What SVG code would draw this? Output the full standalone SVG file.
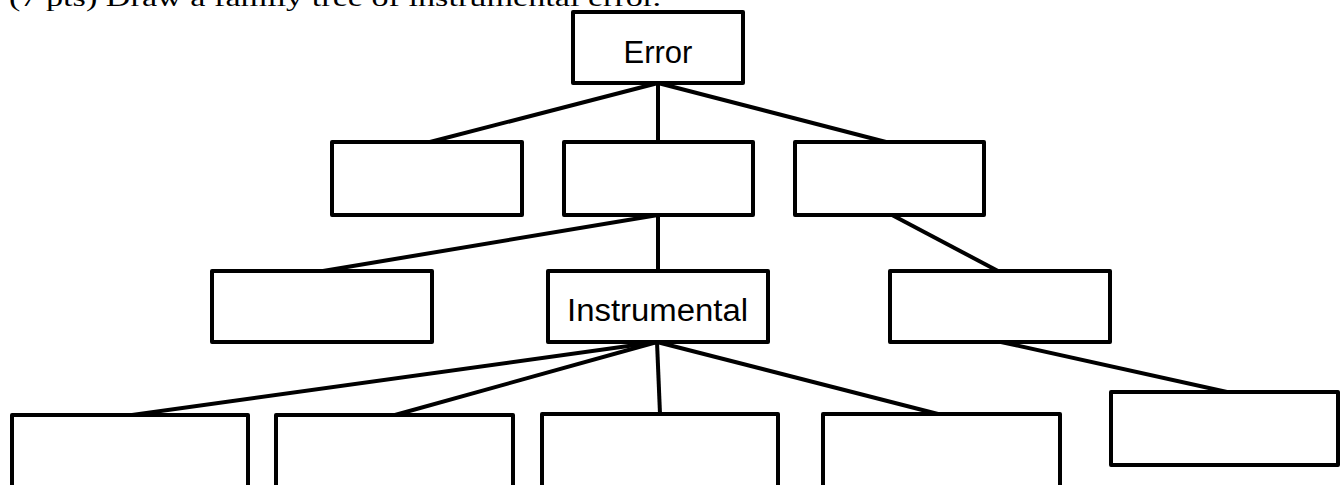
<svg xmlns="http://www.w3.org/2000/svg" width="1341" height="485" viewBox="0 0 1341 485">
<style>
.box{fill:#fff;stroke:#000;stroke-width:4;stroke-linejoin:round}
.ln{stroke:#000;stroke-width:4;fill:none;stroke-linecap:butt}
.lbl{font-family:"Liberation Sans",Arial,sans-serif;font-size:31px;fill:#000;text-anchor:middle}
.hdr{font-family:"Liberation Serif","Times New Roman",serif;font-size:25px;fill:#000}
</style>
<rect width="1341" height="485" fill="#fff"/>
<text class="hdr" x="9" y="6" textLength="652" lengthAdjust="spacingAndGlyphs">(7 pts) Draw a family tree of instrumental error.</text>
<g id="connectors">
<line class="ln" x1="658" y1="83" x2="430" y2="142"/>
<line class="ln" x1="658" y1="83" x2="658" y2="142"/>
<line class="ln" x1="658" y1="83" x2="886" y2="142"/>
<line class="ln" x1="658" y1="215" x2="323" y2="271"/>
<line class="ln" x1="658" y1="215" x2="658" y2="271"/>
<line class="ln" x1="892" y1="215" x2="998" y2="271"/>
<line class="ln" x1="657" y1="342" x2="132" y2="415"/>
<line class="ln" x1="657" y1="342" x2="395" y2="415"/>
<line class="ln" x1="657" y1="342" x2="660" y2="414"/>
<line class="ln" x1="657" y1="342" x2="938" y2="414"/>
<line class="ln" x1="1001" y1="342" x2="1227" y2="392"/>
</g>
<g id="n-error"><rect class="box" x="573" y="12" width="170" height="71"/><text class="lbl" x="658" y="63">Error</text></g>
<g id="n-l2a"><rect class="box" x="332" y="142" width="190" height="73"/></g>
<g id="n-l2b"><rect class="box" x="564" y="142" width="189" height="73"/></g>
<g id="n-l2c"><rect class="box" x="795" y="142" width="189" height="73"/></g>
<g id="n-l3a"><rect class="box" x="212" y="271" width="220" height="71"/></g>
<g id="n-instrumental"><rect class="box" x="548" y="271" width="220" height="71"/><text class="lbl" x="657.5" y="321" textLength="181" lengthAdjust="spacingAndGlyphs">Instrumental</text></g>
<g id="n-l3c"><rect class="box" x="890" y="271" width="220" height="71"/></g>
<g id="n-l4a"><rect class="box" x="12" y="415" width="236" height="80"/></g>
<g id="n-l4b"><rect class="box" x="276" y="415" width="237" height="80"/></g>
<g id="n-l4c"><rect class="box" x="542" y="414" width="236" height="80"/></g>
<g id="n-l4d"><rect class="box" x="823" y="414" width="237" height="80"/></g>
<g id="n-l4e"><rect class="box" x="1111" y="392" width="227" height="73"/></g>
</svg>
